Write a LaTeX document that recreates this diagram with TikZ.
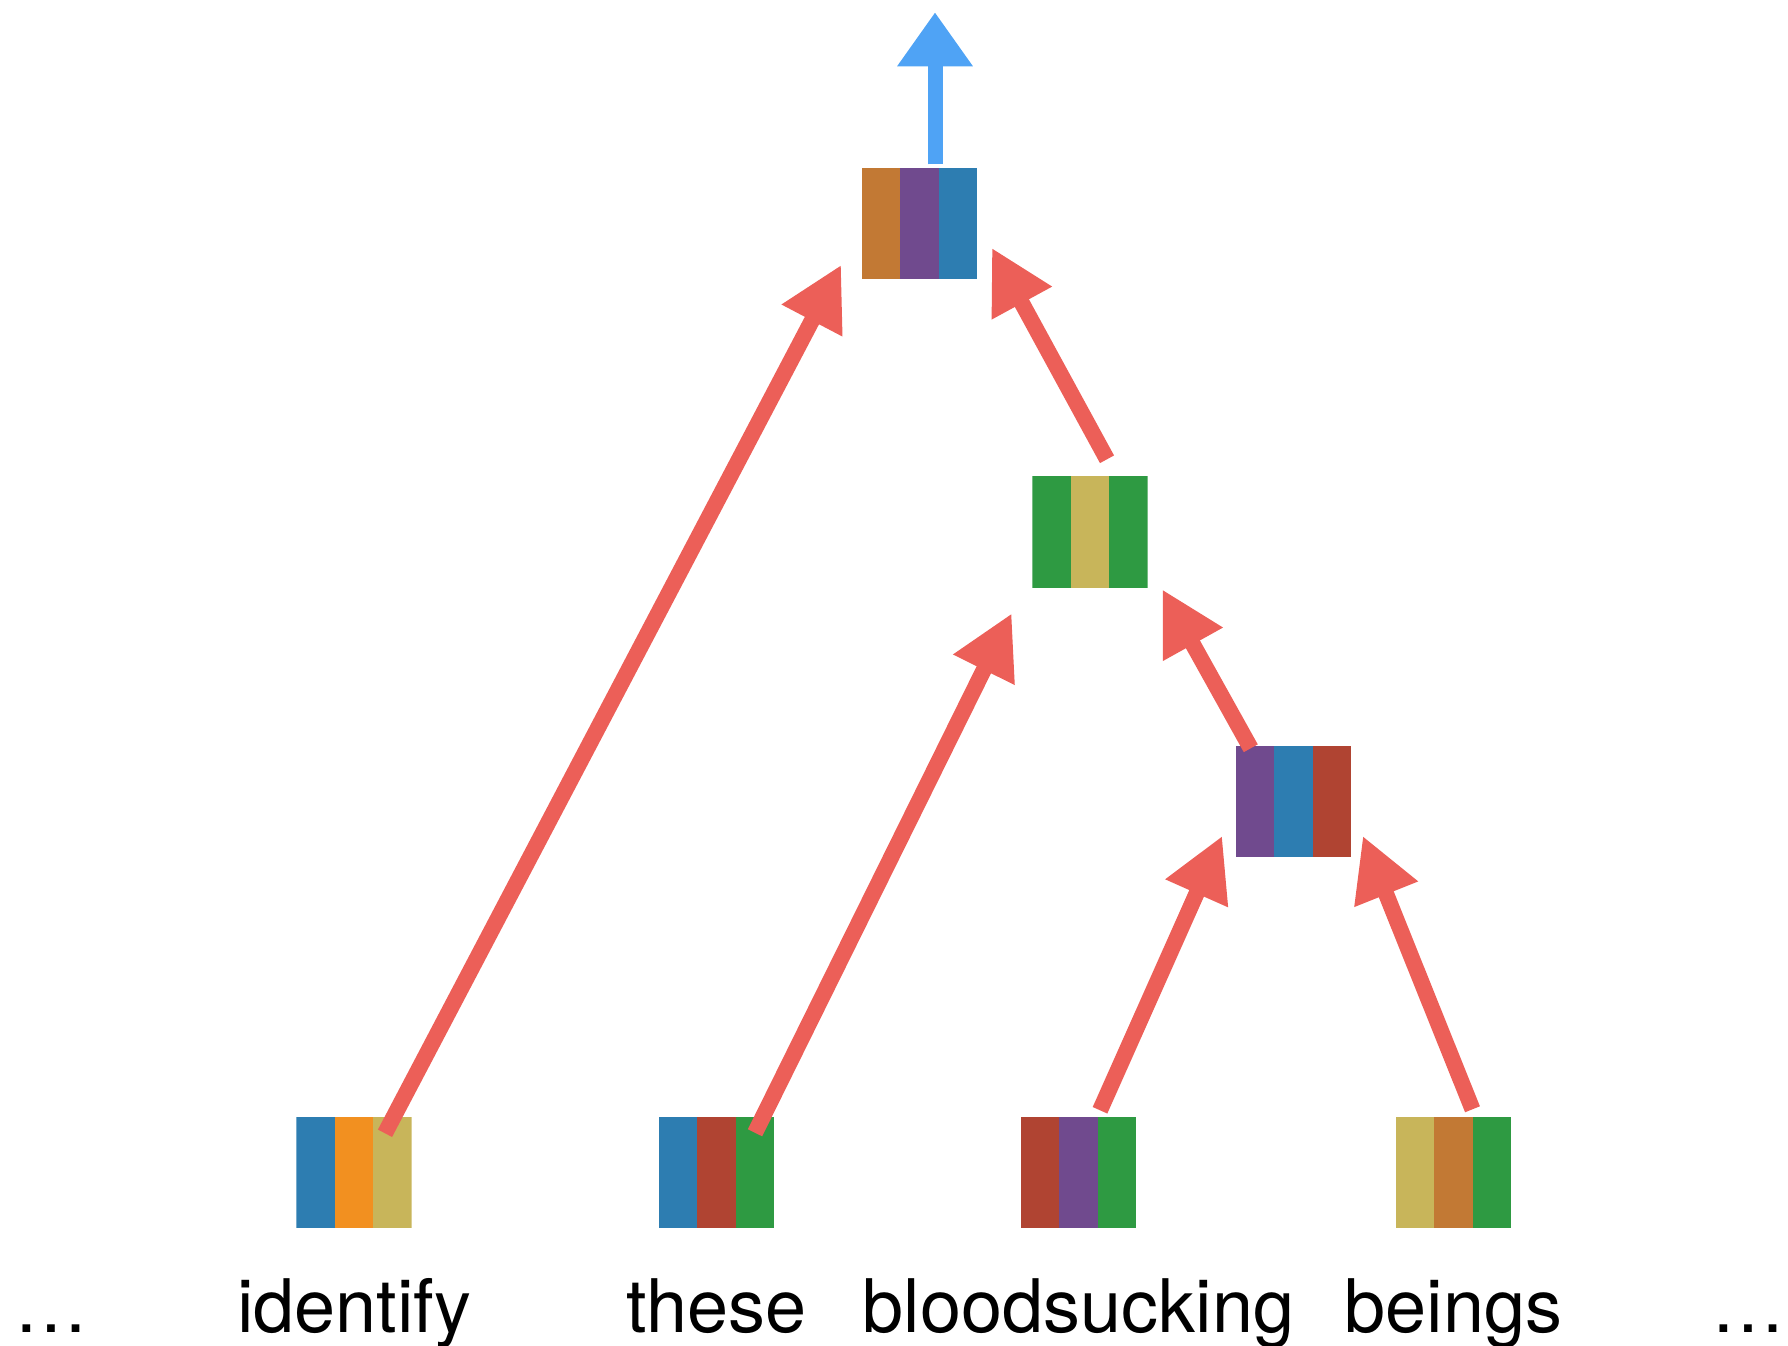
\documentclass[tikz,border=0pt]{standalone}
\usepackage{fontspec}
\setmainfont{TeX Gyre Heros}
\usetikzlibrary{arrows.meta}
\definecolor{vblue}{HTML}{2D7DB1}
\definecolor{vorange}{HTML}{F29020}
\definecolor{vkhaki}{HTML}{C8B55A}
\definecolor{vbrick}{HTML}{B04432}
\definecolor{vgreen}{HTML}{2E9A42}
\definecolor{vpurple}{HTML}{704A8E}
\definecolor{vochre}{HTML}{C27934}
\definecolor{vred}{HTML}{EC5F58}
\definecolor{vsky}{HTML}{4FA3F5}

\begin{document}
\begin{tikzpicture}[x=0.01cm,y=-0.01cm]
		\useasboundingbox (0,0) rectangle (1788,1345);
		\tikzset{VecStyle/.style n args={3}{rectangle, inner sep=0pt, minimum width=1.15cm, minimum height=1.11cm,
		path picture={
			\fill[#1] (path picture bounding box.south west) rectangle ([xshift=0.383cm]path picture bounding box.north west);
			\fill[#2] ([xshift=0.383cm]path picture bounding box.south west) rectangle ([xshift=0.767cm]path picture bounding box.north west);
			\fill[#3] ([xshift=0.767cm]path picture bounding box.south west) rectangle (path picture bounding box.north east);}},
		WordStyle/.style = {anchor=base, inner sep=0pt, font=\fontsize{21}{25}\selectfont},
		EdgeStyle/.style = {line width=0.16cm, draw=vred, -{Triangle[length=0.63cm, width=0.64cm]}},
		OutStyle/.style = {line width=0.15cm, draw=vsky, -{Triangle[length=0.54cm, width=0.72cm]}}}
		%\node[draw] at (0,0){};
		\node[VecStyle={vochre}{vpurple}{vblue}] (top) at (919.5,223.5) {};
		\node[VecStyle={vgreen}{vkhaki}{vgreen}] (mid) at (1090,532) {};
		\node[VecStyle={vpurple}{vblue}{vbrick}] (low) at (1293.5,801.5) {};
		\node[VecStyle={vblue}{vorange}{vkhaki}] (w1) at (354,1172.5) {};
		\node[VecStyle={vblue}{vbrick}{vgreen}] (w2) at (716.5,1172.5) {};
		\node[VecStyle={vbrick}{vpurple}{vgreen}] (w3) at (1078.5,1172.5) {};
		\node[VecStyle={vkhaki}{vochre}{vgreen}] (w4) at (1453.5,1172.5) {};
		\node[WordStyle] (dotsl) at (51,1332) {…};
		\node[WordStyle] (t1) at (354,1332) {identify};
		\node[WordStyle] (t2) at (716.5,1332) {these};
		\node[WordStyle] (t3) at (1078.5,1332) {bloodsucking};
		\node[WordStyle] (t4) at (1453.5,1332) {beings};
		\node[WordStyle] (dotsr) at (1748,1332) {…};
		\draw[EdgeStyle] ([shift={(31,17)}]w1.north) -- ([shift={(-20,-15)}]top.south west);
		\draw[EdgeStyle] ([shift={(38.5,16.5)}]w2.north) -- ([shift={(-20,25)}]mid.south west);
		\draw[EdgeStyle] ([shift={(17,-16.5)}]mid.north) -- ([shift={(14,-32)}]top.south east);
		\draw[EdgeStyle] ([shift={(15.5,3)}]low.north west) -- ([shift={(14,1)}]mid.south east);
		\draw[EdgeStyle] ([shift={(21.5,-6)}]w3.north) -- ([shift={(-13,-22)}]low.south west);
		\draw[EdgeStyle] ([shift={(19,-7)}]w4.north) -- ([shift={(11,-22)}]low.south east);
		\coordinate (out) at ([shift={(15.5,-155)}]top.north);
		\draw[OutStyle] ([shift={(15.5,-3)}]top.north) -- (out);
	\end{tikzpicture}
\end{document}
